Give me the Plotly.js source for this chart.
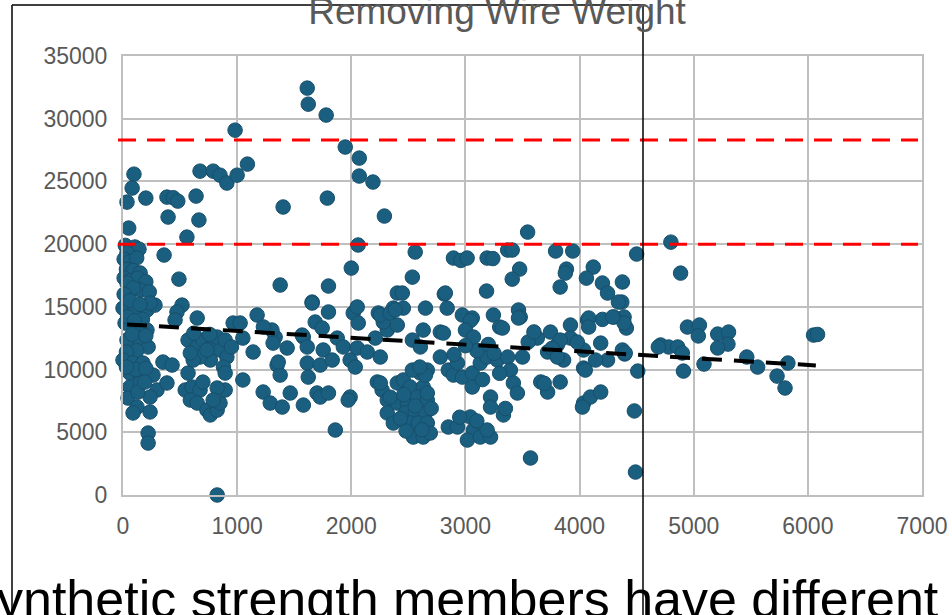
<!DOCTYPE html>
<html>
<head>
<meta charset="utf-8">
<script src="https://cdn.plot.ly/plotly-3.0.1.min.js"></script>
<style>html,body{margin:0;padding:0;background:#fff;}#chart{width:952px;height:615px;}</style>
</head>
<body>
<div id="chart"></div>
<script>
// Scatter data: wire length (x) vs breaking strength after removing wire weight (y)
const pointsX = [
  1614,1623,1780,982,1947,2070,2070,2190,2290,1790,
  2060,2560,2000,1800,1657,2535,2895,2960,3015,2815,
  3190,3240,3185,3370,3410,3545,3475,3410,3790,3940,
  3885,3830,4120,4060,4200,4375,4500,4800,4885,4370,
  4390,4410,4395,4510,4480,4490,4945,5050,5040,5210,
  5305,5300,5210,4710,4780,4860,4900,4910,5090,5465,
  5560,5825,5730,5800,6050,6085,
  96,80,35,200,385,440,480,640,395,665,
  560,50,675,790,850,910,1000,1090,360,490,
  1377,1403,
  20,105,140,35,10,60,120,30,90,150,
  10,60,130,200,35,150,90,10,230,0,
  88,210,280,237,18,123,210,60,150,40,
  170,100,35,150,220,80,200,120,30,0,
  88,175,60,150,263,60,150,44,123,88,
  237,220,220,298,385,350,430,237,110,200,
  30,130,190,
  517,473,456,650,570,650,700,790,850,910,
  880,765,675,615,590,735,825,895,570,545,
  605,675,590,650,735,765,825,850,895,825,
  790,1050,895,965,825,700,620,760,950,
  1175,1228,1290,1395,1465,1580,1350,1377,1333,1438,
  1580,1614,1623,1657,1700,1050,1140,1305,1315,1360,
  1570,1614,1728,1800,1990,1973,1860,1684,1800,1745,
  1754,1728,1833,1877,1930,1990,2035,2052,2017,2052,
  2061,2140,2210,2254,2237,2315,2368,2403,2280,2228,
  2270,2315,2315,2368,1026,1230,
  2254,2340,2456,2447,2650,2824,2840,2973,3060,3245,
  3465,3480,3300,2385,2403,2630,2780,2535,2605,3043,
  3000,3070,3324,3465,2807,2780,2850,2895,2930,2973,
  3060,3060,3130,3190,3280,3370,3394,3420,3455,3220,
  3220,3333,2850,2930,3043,3070,3017,3130,3220,3190,
  3570,
  2403,2456,2517,2605,2666,2630,2403,2491,2578,2666,
  2473,2560,2650,2517,2587,2666,2430,2543,2630,2692,
  2254,2340,2460,2535,2650,2666,2560,2620,2480,2700,
  2600,3100,3200,3250,2900,3000,3150,3300,2950,3100,
  3350,
  3630,3745,3920,4070,4200,4300,4390,4185,4035,3920,
  3805,3720,3860,4035,4245,4375,3660,3720,3830,4035,
  4095,4185,3875,4245,4340,4080,4080,4290,3830,3980,
  3760,3805,4050,4140,4400,4690,3690,4025,3550,3500,
  3600
];
const pointsY = [
  32440,31160,30290,29090,27740,26860,25430,24950,22240,23670,
  19930,19370,18090,16660,15380,17370,18890,18700,18890,16020,
  18890,18850,16260,19530,19530,20960,18010,17210,19450,19450,
  18010,16580,18170,17290,16900,16980,19210,20160,17690,15380,
  14190,13310,11240,9880,6700,1830,13390,13550,12680,12830,
  12990,12030,11720,11960,11800,11800,11320,9880,10440,11000,
  10200,10520,9480,8530,12750,12800,
  25580,24470,23350,23670,23750,23700,23430,23830,22160,21920,
  20560,21280,25820,25820,25500,24870,25500,26380,19130,17210,
  16740,22960,
  19900,19770,19600,19300,18800,18600,18900,18000,17900,17700,
  17300,17100,17300,17000,16900,16340,16500,16000,16200,14900,
  14510,14750,15140,15300,13710,13390,13150,15500,15200,14200,
  14000,13900,12350,12110,11800,12800,12700,11500,11400,10760,
  10520,10520,9720,9400,9560,8610,8930,7730,7010,6540,
  6620,4940,4140,8370,8930,10600,10360,7810,10000,10100,
  10200,8200,9000,
  15140,14590,13950,14110,12350,11800,12350,12110,11560,11000,
  10200,10760,11000,10760,11320,11560,12590,12350,9720,8370,
  8610,8370,7570,7330,6770,6380,6770,7330,8370,8530,
  7570,9170,9720,13710,0,9000,12900,12800,11800,
  14350,8210,7330,7010,8130,7170,10360,9560,12590,11720,
  12590,10520,9400,15300,8130,12510,11400,13150,12110,10600,
  12750,11800,7810,8130,7810,7570,5180,13790,14590,13310,
  11560,10360,10760,12510,11800,10760,10200,11720,14510,14990,
  13710,11400,12510,11000,14510,13150,14900,16100,13790,9010,
  8370,7570,6540,5740,13710,13400,
  14350,14500,14900,16100,14900,16100,14900,14350,14110,14350,
  14750,14190,13390,14750,13550,13150,12990,12350,11800,13900,
  13150,12590,13310,14110,12910,11000,9960,9560,10520,9400,
  9720,8610,10520,11000,10760,11000,9960,8930,8130,7810,
  7010,6380,5420,5420,6220,5180,4380,4620,4620,5180,
  2950,
  8930,9170,8610,9720,9960,8600,7330,7330,7810,7570,
  6540,6540,6540,5740,5740,5740,6100,4620,4620,4940,
  8930,7800,8000,9960,9560,8130,7100,5200,5100,6900,
  10200,11500,12000,11300,11200,11900,9200,9700,6200,5900,
  6900,
  12510,12990,13550,13950,14000,14190,13710,12110,11560,12510,
  11960,11400,10760,10120,10760,11560,9010,8210,9010,7330,
  7810,8210,17690,16100,15380,14110,13390,14190,12350,12190,
  11700,11000,9960,10760,11320,11800,8900,7010,12200,11000,
  13000
];
// Linear trendline end points (as drawn in the reference)
const trendX = [35, 6070];
const trendY = [13600, 10330];
// Horizontal red dashed reference levels
const limitValues = [28300, 20000];
// Axis ticks
const xTicks = [0,1000,2000,3000,4000,5000,6000,7000];
const yTicks = [0,5000,10000,15000,20000,25000,30000,35000];

const W = 952, H = 615;
const M = {l:123, r:30, t:56, b:120};
const pw = W - M.l - M.r, ph = H - M.t - M.b;
const px2x = p => (p - M.l) / pw;
const px2y = p => (H - M.b - p) / ph;

const font = 'Liberation Sans, Arial, sans-serif';

const traces = [
  {
    type:'scatter', mode:'markers', x:pointsX, y:pointsY,
    marker:{size:14.5, color:'#1b5f80', line:{color:'#174f6b', width:1}},
    cliponaxis:false, hoverinfo:'x+y', showlegend:false
  },
  {
    type:'scatter', mode:'lines', x:trendX, y:trendY,
    line:{color:'#000000', width:4, dash:'20px,12px'},
    cliponaxis:false, showlegend:false
  }
];

const shapes = limitValues.map(v => ({
  type:'line', xref:'paper', yref:'y', x0:px2x(118), x1:px2x(918), y0:v, y1:v,
  line:{color:'#ff0000', width:3, dash:'18px,11px'}, layer:'above'
}));
// slide frame lines around the chart
shapes.push({type:'line', xref:'paper', yref:'paper', x0:px2x(12), x1:px2x(12), y0:px2y(5), y1:px2y(630), line:{color:'#000', width:1.5}});
shapes.push({type:'line', xref:'paper', yref:'paper', x0:px2x(12), x1:px2x(643), y0:px2y(5), y1:px2y(5), line:{color:'#000', width:1.5}});
shapes.push({type:'line', xref:'paper', yref:'paper', x0:px2x(643), x1:px2x(643), y0:px2y(5), y1:px2y(630), line:{color:'#000', width:1.5}});

const axisCommon = {
  showgrid:true, gridcolor:'#bfbfbf', gridwidth:2,
  zeroline:false, showline:true, mirror:true, linecolor:'#bfbfbf', linewidth:2,
  ticks:'', tickfont:{family:font, size:23, color:'#595959'}, fixedrange:true
};

const layout = {
  width:W, height:H, margin:M,
  paper_bgcolor:'#ffffff', plot_bgcolor:'#ffffff',
  showlegend:false,
  title:{
    text:'Removing Wire Weight',
    font:{family:font, size:37, color:'#595959'},
    xref:'container', x:497/W, xanchor:'center',
    yref:'container', y:1 - 11/H, yanchor:'middle'
  },
  xaxis:Object.assign({}, axisCommon, {range:[0,7000], tickvals:xTicks, ticktext:xTicks.map(String), ticklabelstandoff:9}),
  yaxis:Object.assign({}, axisCommon, {range:[0,35000], tickvals:yTicks, ticktext:yTicks.map(String), ticklabelstandoff:9}),
  shapes:shapes,
  annotations:[{
    xref:'paper', yref:'paper', x:px2x(-31), y:px2y(568), xanchor:'left', yanchor:'top',
    text:'synthetic strength members have different', showarrow:false,
    font:{family:font, size:52, color:'#000000'}
  }]
};

Plotly.newPlot('chart', traces, layout, {staticPlot:true, displayModeBar:false});
</script>
</body>
</html>
